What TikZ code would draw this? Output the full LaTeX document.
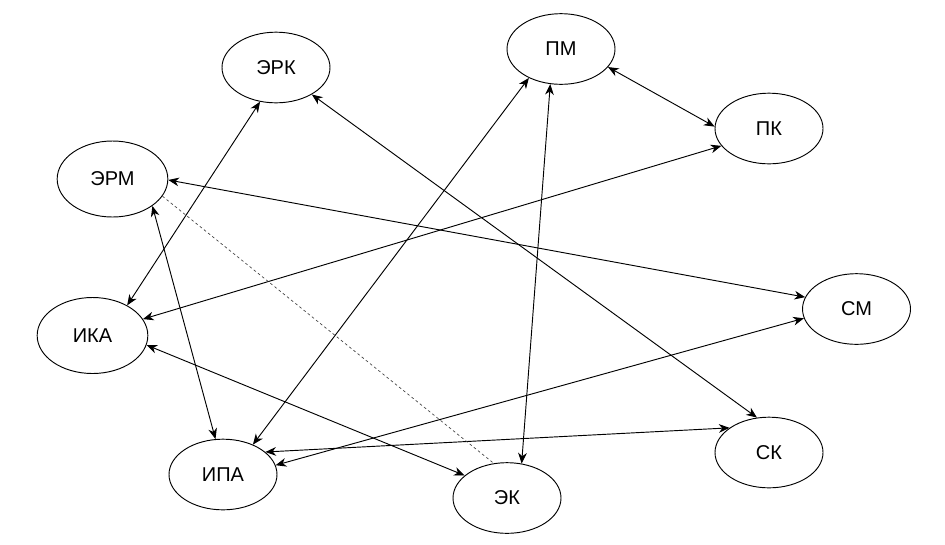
\documentclass[tikz,border=0pt]{standalone}
\usepackage{fontspec}
\setmainfont{Liberation Sans}
\usepackage{tikz}
\usetikzlibrary{shapes,arrows,arrows.meta}
\tikzstyle{state} = [draw, ellipse, minimum width=81pt, minimum height=53pt, inner sep=0pt, font=\fontsize{15}{18}\selectfont]
\tikzstyle{link} = [draw, <->]

\begin{document}
\begin{tikzpicture}[x=0.75pt,y=-0.75pt,line width=0.7pt,>={Stealth[length=8pt,width=6.5pt,inset=2.5pt]}]
      \useasboundingbox (0,0) rectangle (945,544);

      % states
      \node[state] (erk) at (276,67.5) {ЭРК};
      \node[state, minimum width=83pt, minimum height=57pt] (erm) at (112.5,179) {ЭРМ};
      \node[state] (pm) at (561,49) {ПМ};
      \node[state] (pk) at (769,128.5) {ПК};
      \node[state, minimum width=83pt, minimum height=57pt] (ika) at (92.5,335.5) {ИКА};
      \node[state] (ipa) at (223,474.5) {ИПА};
      \node[state] (ek) at (507,498) {ЭК};
      \node[state] (sm) at (856.5,309) {СМ};
      \node[state] (sk) at (769,452.5) {СК};

      % two-way links
      \draw[link] (erk.-115) -- (ika.41);
      \draw[link] (erk.-37) -- (sk.109);
      \draw[link] (pm.-138) -- (ipa.45);
      \draw[link] (pm.-107) -- (ek.67);
      \draw[link] (pm.-21) -- (pk.178);
      \draw[link] (pk.200) -- (ika.18);
      \draw[link] (erm.-1) -- (sm.167);
      \draw[link] (erm.-34) -- (ipa.102);
      \draw[link] (ika.-10) -- (ek.152);
      \draw[link] (ipa.10) -- (sm.190);
      \draw[link] (ipa.28) -- (sk.148);

      % dashed link
      \draw[black!75, line width=0.5pt, dash pattern=on 2pt off 2pt] (erm.-19) -- (ek.111);
\end{tikzpicture}
\end{document}
